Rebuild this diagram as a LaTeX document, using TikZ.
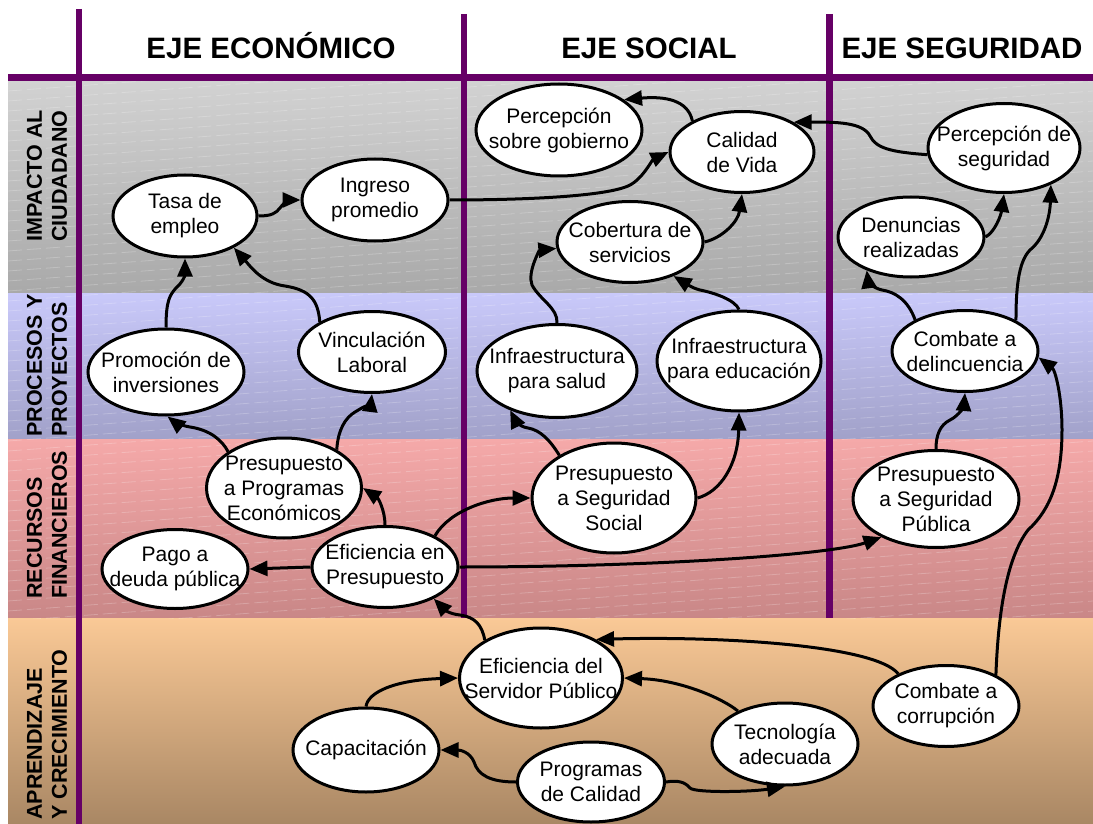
\documentclass[tikz,border=0pt]{standalone}
\usepackage{fontspec}
\setmainfont{Liberation Sans}
\usetikzlibrary{shapes.geometric,arrows.meta}

\definecolor{axisline}{HTML}{660066}
\definecolor{grayTop}{HTML}{D2D2D2}
\definecolor{grayBot}{HTML}{A9A9A9}
\definecolor{blueTop}{HTML}{C9C9FA}
\definecolor{blueBot}{HTML}{A1A1C9}
\definecolor{pinkTop}{HTML}{F5A9A9}
\definecolor{pinkBot}{HTML}{C98787}
\definecolor{sandTop}{HTML}{FAC996}
\definecolor{sandBot}{HTML}{A98764}

\tikzset{
  % the ellipse keeps its own size; the wording sits on it as a centred label
  oval/.style={ellipse, draw, line width=3pt, fill=white, inner sep=0pt},
  ovaltext/.style={inner sep=0pt, align=center, font=\fontsize{21}{25}\selectfont},
  flow/.style={line width=3pt, -{Triangle[length=18pt,width=15pt]}},
  head/.style={inner sep=0pt, font=\fontsize{29.5}{35}\selectfont\bfseries},
  lane/.style={inner sep=0pt, rotate=90, align=left, anchor=west,
    font=\fontsize{21.5}{25}\selectfont\bfseries},
  divider/.style={axisline, line width=6.5pt},
  texture/.style={white, opacity=0.22, line width=0.8pt, dash pattern=on 14pt off 5pt}
}

\begin{document}
\begin{tikzpicture}[x=1pt,y=-1pt]
\useasboundingbox (0,0) rectangle (1093,824);

% perspective bands
\shade[top color=grayTop, bottom color=grayBot] (8,81) rectangle (1093,293);
\shade[top color=blueTop, bottom color=blueBot] (8,293) rectangle (1093,439);
\shade[top color=pinkTop, bottom color=pinkBot] (8,439) rectangle (1093,618);
\shade[top color=sandTop, bottom color=sandBot] (8,618) rectangle (1093,824);

% faint slanted stripes on the upper bands
\begin{scope}
  \clip (8,81) rectangle (1093,618);
  \foreach \k in {0,...,64}
    \draw[texture] (8,81+10*\k) -- ++(1085,-80);
\end{scope}

% grid of axes
\draw[divider] (8,77.5) -- (1093,77.5);
\draw[divider] (79,9) -- (79,824);
\draw[divider] (464,14) -- (464,618);
\draw[divider] (829.5,14) -- (829.5,618);

% column headings
\node[head, anchor=base] (h1) at (271,59) {EJE ECONÓMICO};
\node[head, anchor=base] (h2) at (649,59) {EJE SOCIAL};
\node[head, anchor=base] (h3) at (962,59) {EJE SEGURIDAD};

% row headings
\node[lane] (r1) at (47,242) {IMPACTO AL\\CIUDADANO};
\node[lane] (r2) at (47,437) {PROCESOS Y\\PROYECTOS};
\node[lane] (r3) at (47,599) {RECURSOS\\FINANCIEROS};
\node[lane] (r4) at (47,820) {APRENDIZAJE\\Y CRECIMIENTO};

% objectives
\node[oval, minimum width=144pt, minimum height=82pt, label={[ovaltext]center:{Tasa de\\empleo}}] (tasa) at (185,216) {};
\node[oval, minimum width=146pt, minimum height=82pt, label={[ovaltext]center:{Ingreso\\promedio}}] (ingreso) at (375,200) {};
\node[oval, minimum width=166pt, minimum height=92pt, label={[ovaltext]center:{Percepción\\sobre gobierno}}] (percgob) at (559,130) {};
\node[oval, minimum width=144pt, minimum height=81pt, label={[ovaltext]center:{Calidad\\de Vida}}] (calidad) at (742,152) {};
\node[oval, minimum width=152pt, minimum height=89pt, label={[ovaltext]center:{Percepción de\\seguridad}}] (percseg) at (1004,148) {};
\node[oval, minimum width=146pt, minimum height=81pt, label={[ovaltext]center:{Cobertura de\\servicios}}] (cobertura) at (630,242) {};
\node[oval, minimum width=146pt, minimum height=80pt, label={[ovaltext]center:{Denuncias\\realizadas}}] (denuncias) at (911,237) {};

\node[oval, minimum width=156pt, minimum height=86pt, label={[ovaltext]center:{Promoción de\\inversiones}}] (promocion) at (166,372) {};
\node[oval, minimum width=147pt, minimum height=81pt, label={[ovaltext]center:{Vinculación\\Laboral}}] (vinculacion) at (372,352) {};
\node[oval, minimum width=160pt, minimum height=93pt, label={[ovaltext]center:{Infraestructura\\para salud}}] (infrasalud) at (557,371) {};
\node[oval, minimum width=164pt, minimum height=100pt, label={[ovaltext]center:{Infraestructura\\para educación}}] (infraedu) at (739,361) {};
\node[oval, minimum width=146pt, minimum height=81pt, label={[ovaltext]center:{Combate a\\delincuencia}}] (combdel) at (965,351) {};

\node[oval, minimum width=155pt, minimum height=100pt, label={[ovaltext]center:{Presupuesto\\a Programas\\Económicos}}] (presecon) at (284,488) {};
\node[oval, minimum width=146pt, minimum height=79pt, label={[ovaltext]center:{Pago a\\deuda pública}}] (pago) at (175,569) {};
\node[oval, minimum width=146pt, minimum height=81pt, label={[ovaltext]center:{Eficiencia en\\Presupuesto}}] (eficpres) at (385,567) {};
\node[oval, minimum width=164pt, minimum height=110pt, label={[ovaltext]center:{Presupuesto\\a Seguridad\\Social}}] (presoc) at (614,498) {};
\node[oval, minimum width=166pt, minimum height=97pt, label={[ovaltext]center:{Presupuesto\\a Seguridad\\Pública}}] (prespub) at (936,499) {};

\node[oval, minimum width=163pt, minimum height=100pt, label={[ovaltext]center:{Eficiencia del\\Servidor Público}}] (eficserv) at (541,678) {};
\node[oval, minimum width=146pt, minimum height=84pt, label={[ovaltext]center:{Capacitación}}] (capac) at (366,750) {};
\node[oval, minimum width=147pt, minimum height=80pt, label={[ovaltext]center:{Programas\\de Calidad}}] (progcal) at (591,782) {};
\node[oval, minimum width=146pt, minimum height=82pt, label={[ovaltext]center:{Tecnología\\adecuada}}] (tecno) at (785,744) {};
\node[oval, minimum width=146pt, minimum height=81pt, label={[ovaltext]center:{Combate a\\corrupción}}] (combcor) at (946,706) {};

% cause-effect links
\draw[flow] (tasa.east) .. controls (272,216) and (276,213) .. (280,208)
  .. controls (285,201) and (290,200) .. (ingreso.west);
\draw[flow] (ingreso.east) .. controls (530,200) and (605,196) .. (628,186)
  .. controls (642,180) and (652,160) .. (calidad.west);
\draw[flow] (calidad.148) .. controls (688,100) and (665,96) .. (percgob.25);
\draw[flow] (percseg.185) .. controls (890,152) and (876,148) .. (870,136)
  .. controls (863,122) and (835,122) .. (calidad.30);
\draw[flow] (cobertura.east) .. controls (722,238) and (738,222) .. (calidad.south);
\draw[flow] (denuncias.east) .. controls (995,232) and (1001,215) .. (percseg.south);

\draw[flow] (promocion.north) .. controls (166,300) and (170,295) .. (176,288)
  .. controls (183,282) and (185,275) .. (tasa.south);
\draw[flow] (vinculacion.150) .. controls (318,300) and (310,290) .. (285,286)
  .. controls (262,283) and (250,266) .. (tasa.327);
\draw[flow] (infrasalud.north) .. controls (558,308) and (540,300) .. (532,285)
  .. controls (527,272) and (540,250) .. (cobertura.185);
\draw[flow] (infraedu.north) .. controls (735,300) and (715,293) .. (700,290)
  .. controls (692,288) and (685,283) .. (cobertura.322);
\draw[flow] (combdel.148) .. controls (908,300) and (895,292) .. (882,290)
  .. controls (872,288) and (868,280) .. (denuncias.217);
\draw[flow] (combdel.31) .. controls (1016,290) and (1018,262) .. (1030,250)
  .. controls (1045,238) and (1050,215) .. (percseg.322);

\draw[flow] (presecon.147) .. controls (222,440) and (210,430) .. (190,427)
  .. controls (178,425) and (172,420) .. (promocion.272);
\draw[flow] (presecon.36) .. controls (338,430) and (345,418) .. (355,412)
  .. controls (365,406) and (371,402) .. (vinculacion.south);
\draw[flow] (eficpres.north) .. controls (385,510) and (378,498) .. (presecon.east);
\draw[flow] (eficpres.west) -- (pago.east);
\draw[flow] (eficpres.32) .. controls (450,510) and (490,498) .. (presoc.west);
\draw[flow] (eficpres.east) .. controls (650,567) and (830,555) .. (prespub.215);
\draw[flow] (presoc.east) .. controls (720,492) and (738,465) .. (infraedu.south);
\draw[flow] (presoc.142) .. controls (550,440) and (540,430) .. (528,428)
  .. controls (520,427) and (515,420) .. (infrasalud.220);
\draw[flow] (prespub.north) .. controls (936,435) and (940,425) .. (950,420)
  .. controls (960,415) and (964,405) .. (combdel.south);

\draw[flow] (eficserv.146) .. controls (482,625) and (475,617) .. (460,615)
  .. controls (450,614) and (445,610) .. (eficpres.327);
\draw[flow] (capac.north) .. controls (368,692) and (395,680) .. (eficserv.west);
\draw[flow] (progcal.west) .. controls (490,782) and (478,775) .. (474,762)
  .. controls (470,752) and (460,750) .. (capac.east);
\draw[flow] (progcal.east) .. controls (678,780) and (685,782) .. (690,788)
  .. controls (695,793) and (750,792) .. (tecno.south);
\draw[flow] (tecno.145) .. controls (722,698) and (680,680) .. (eficserv.east);
\draw[flow] (combcor.146) .. controls (875,645) and (720,636) .. (eficserv.35);
\draw[flow] (combcor.32) .. controls (998,620) and (1005,560) .. (1028,530)
  .. controls (1050,510) and (1062,480) .. (1062,430)
  .. controls (1062,395) and (1055,370) .. (combdel.355);
\end{tikzpicture}
\end{document}
